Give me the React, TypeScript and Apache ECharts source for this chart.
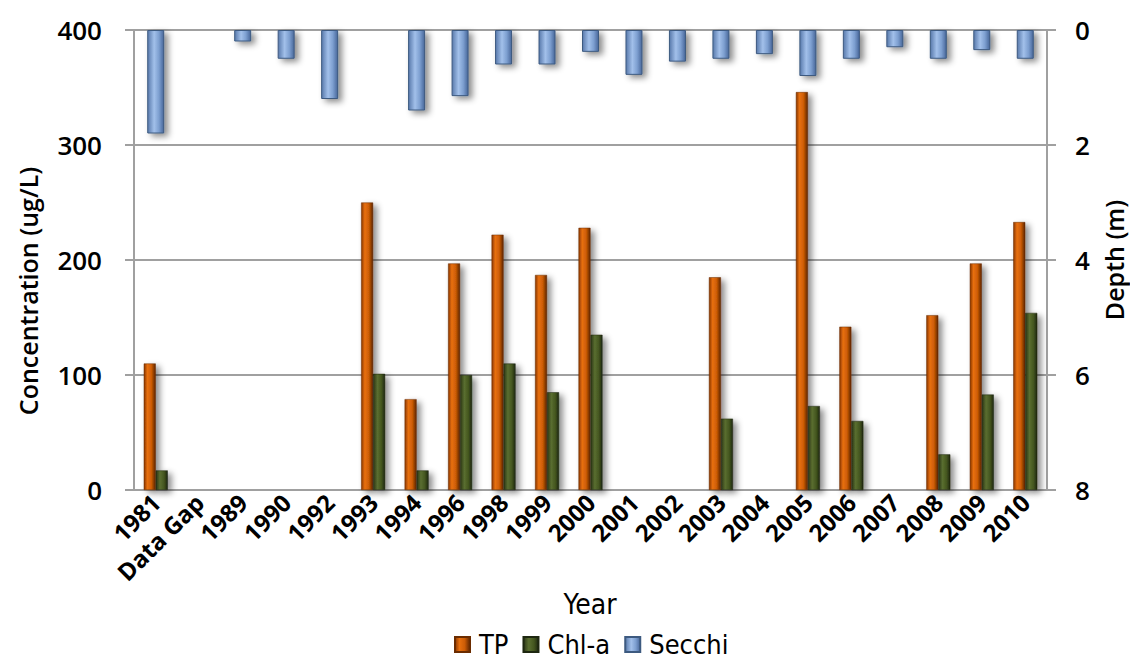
import React, { useEffect, useRef } from "react";
import * as echarts from "echarts";

const categories = [
  "1981", "Data Gap", "1989", "1990", "1992", "1993", "1994", "1996", "1998", "1999",
  "2000", "2001", "2002", "2003", "2004", "2005", "2006", "2007", "2008", "2009", "2010",
];
const tpValues = [110, null, null, null, null, 250, 79, 197, 222, 187, 228, null, null, 185, null, 346, 142, null, 152, 197, 233];
const chlValues = [17, null, null, null, null, 101, 17, 100, 110, 85, 135, null, null, 62, null, 73, 60, null, 31, 83, 154];
const secchiValues = [1.8, null, 0.2, 0.5, 1.2, null, 1.4, 1.15, 0.6, 0.6, 0.38, 0.78, 0.55, 0.5, 0.42, 0.8, 0.5, 0.3, 0.5, 0.35, 0.5];

const leftTicks = { min: 0, max: 400, interval: 100 };
const rightTicks = { min: 0, max: 8, interval: 2 };

const TICK_FONT = "'Open Sans', 'Noto Sans', sans-serif";
const NARROW_FONT = "'Liberation Sans Narrow', 'DejaVu Sans Condensed', sans-serif";

function grad(stops: [number, string][]) {
  return new echarts.graphic.LinearGradient(
    0, 0, 1, 0,
    stops.map(([offset, color]) => ({ offset, color }))
  );
}

export default function App() {
  const ref = useRef<HTMLDivElement>(null);
  useEffect(() => {
    if (!ref.current) return;
    const chart = echarts.init(ref.current, undefined, { renderer: "svg" });
    const tpColor = grad([[0, "#8a3600"], [0.3, "#e8700e"], [0.65, "#cc5c06"], [1, "#5e2500"]]);
    const chlColor = grad([[0, "#2a3516"], [0.35, "#5a6e30"], [0.7, "#44561f"], [1, "#1e2710"]]);
    const secColor = grad([[0, "#5879ab"], [0.4, "#a2c0ea"], [0.7, "#7d9fd0"], [1, "#48679a"]]);
    const shadow = {
      shadowColor: "rgba(0,0,0,0.45)",
      shadowBlur: 6,
      shadowOffsetX: 4,
      shadowOffsetY: 3,
    };
    const gridColor = "#a0a0a0";
    chart.setOption({
      animation: false,
      backgroundColor: "#ffffff",
      grid: { left: 134, right: 83, top: 30, bottom: 170, containLabel: false },
      legend: {
        top: 626,
        left: 449,
        itemWidth: 15,
        itemHeight: 15,
        itemGap: 14,
        icon: "rect",
        textStyle: { fontFamily: NARROW_FONT, fontSize: 27, color: "#000", padding: [0, 0, 0, 4] },
        data: ["TP", "Chl-a", "Secchi"],
      },
      xAxis: [
        {
          type: "category",
          data: categories,
          axisLine: { show: true, lineStyle: { color: gridColor, width: 2 } },
          axisTick: { show: false },
          axisLabel: {
            interval: 0,
            rotate: 45,
            margin: 8,
            fontFamily: TICK_FONT,
            fontWeight: "bold",
            fontSize: 24,
            color: "#000",
          },
        },
        {
          type: "category",
          data: categories,
          show: false,
        },
      ],
      yAxis: [
        {
          type: "value",
          min: leftTicks.min,
          max: leftTicks.max,
          interval: leftTicks.interval,
          axisLine: { show: true, lineStyle: { color: gridColor, width: 2 } },
          axisTick: { show: true, length: 9, lineStyle: { color: gridColor, width: 2 } },
          splitLine: { show: true, lineStyle: { color: gridColor, width: 2 } },
          axisLabel: {
            margin: 32,
            fontFamily: TICK_FONT,
            fontWeight: 600,
            fontSize: 26,
            color: "#000",
          },
        },
        {
          type: "value",
          position: "right",
          inverse: true,
          min: rightTicks.min,
          max: rightTicks.max,
          interval: rightTicks.interval,
          axisLine: { show: true, lineStyle: { color: gridColor, width: 2 } },
          axisTick: { show: true, length: 9, lineStyle: { color: gridColor, width: 2 } },
          splitLine: { show: false },
          axisLabel: {
            margin: 28,
            fontFamily: TICK_FONT,
            fontWeight: 600,
            fontSize: 26,
            color: "#000",
          },
        },
      ],
      graphic: [
        {
          type: "text",
          x: 28,
          y: 291,
          rotation: Math.PI / 2,
          style: {
            text: "Concentration (ug/L)",
            fontFamily: TICK_FONT,
            fontWeight: 600,
            fontSize: 25,
            fill: "#000",
            align: "center",
            verticalAlign: "middle",
          },
        },
        {
          type: "text",
          x: 1114,
          y: 260,
          rotation: Math.PI / 2,
          style: {
            text: "Depth (m)",
            fontFamily: TICK_FONT,
            fontWeight: 600,
            fontSize: 25,
            fill: "#000",
            align: "center",
            verticalAlign: "middle",
          },
        },
        {
          type: "text",
          x: 590,
          y: 604,
          style: {
            text: "Year",
            fontFamily: NARROW_FONT,
            fontSize: 28,
            fill: "#000",
            align: "center",
            verticalAlign: "middle",
          },
        },
      ],
      series: [
        {
          name: "TP",
          type: "bar",
          xAxisIndex: 0,
          yAxisIndex: 0,
          data: tpValues,
          barWidth: 12,
          barGap: "0%",
          itemStyle: { color: tpColor, borderColor: "#6b2c00", borderWidth: 0.5, ...shadow },
        },
        {
          name: "Chl-a",
          type: "bar",
          xAxisIndex: 0,
          yAxisIndex: 0,
          data: chlValues,
          barWidth: 12,
          barGap: "0%",
          itemStyle: { color: chlColor, borderColor: "#1e2710", borderWidth: 0.5, ...shadow },
        },
        {
          name: "Secchi",
          type: "bar",
          xAxisIndex: 1,
          yAxisIndex: 1,
          data: secchiValues,
          barWidth: 17,
          itemStyle: { color: secColor, borderColor: "#3d5a80", borderWidth: 1, ...shadow },
        },
      ],
    });
    return () => chart.dispose();
  }, []);
  return (
    <div
      ref={ref}
      style={{ position: "fixed", left: 0, top: 0, width: 1130, height: 660, background: "#fff" }}
    />
  );
}
